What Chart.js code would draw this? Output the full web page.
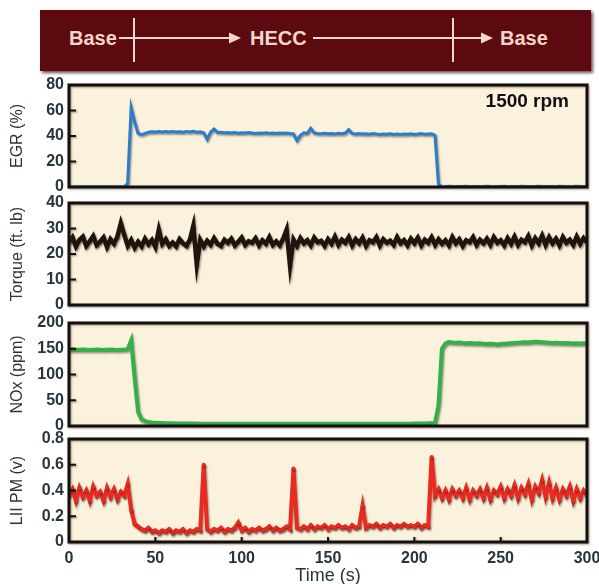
<!DOCTYPE html>
<html><head><meta charset="utf-8">
<script src="https://cdn.jsdelivr.net/npm/chart.js@4"></script>
<style>
html,body{margin:0;padding:0;background:#fff;width:599px;height:584px;overflow:hidden;}
#wrap{position:relative;width:599px;height:584px;}
canvas{position:absolute;left:0;}
#banner{position:absolute;left:40px;top:10px;width:551px;height:61px;background:#5c0a0f;box-shadow:2px 2px 3px rgba(40,0,0,0.7);}
#banner svg{position:absolute;left:0;top:0;}
.bt{position:absolute;top:18px;font:bold 20px/20px "Liberation Sans",Arial,sans-serif;color:#f4d6ca;white-space:nowrap;}
</style></head>
<body><div id="wrap">
<div id="banner">
<svg width="551" height="61">
<g stroke="#f4d6ca" stroke-width="2" fill="none">
<line x1="79" y1="28" x2="192" y2="28"/>
<line x1="94" y1="8" x2="94" y2="52"/>
<line x1="273" y1="28" x2="444" y2="28"/>
<line x1="413" y1="8" x2="413" y2="52"/>
</g>
<g fill="#f4d6ca">
<polygon points="201,28 189,22.5 189,33.5"/>
<polygon points="453,28 441,22.5 441,33.5"/>
</g>
</svg>
<span class="bt" id="b1" style="left:29px">Base</span>
<span class="bt" id="b2" style="left:210px">HECC</span>
<span class="bt" id="b3" style="left:460px">Base</span>
</div>
<canvas id="c1"></canvas>
<canvas id="c2"></canvas>
<canvas id="c3"></canvas>
<canvas id="c4"></canvas>
</div>
<script>
const time = [0,2,4,6,8,10,12,14,16,18,20,22,24,26,28,30,32,34,36,38,40,42,44,46,48,50,52,54,56,58,60,62,64,66,68,70,72,74,76,78,80,82,84,86,88,90,92,94,96,98,100,102,104,106,108,110,112,114,116,118,120,122,124,126,128,130,132,134,136,138,140,142,144,146,148,150,152,154,156,158,160,162,164,166,168,170,172,174,176,178,180,182,184,186,188,190,192,194,196,198,200,202,204,206,208,210,212,214,216,218,220,222,224,226,228,230,232,234,236,238,240,242,244,246,248,250,252,254,256,258,260,262,264,266,268,270,272,274,276,278,280,282,284,286,288,290,292,294,296,298,300];

const egr = [0,0,0,0,0,0,0,0,0,0,0,0,0,0,0,0,0,
  3,62,51,42,41,42,43,43.3,43.1,43.5,
  43.2,43.5,43.1,43.6,43.2,43.4,43,43.6,43.2,43.7,
  43,43.3,42.6,37.5,43,45.5,42.8,43,42.5,42.8,
  42.3,42.7,42.2,42.6,42.3,42.7,42.3,42,42.4,42.1,
  42.5,41.9,42.3,42,42.4,42.1,42.3,41.9,41.6,36.5,
  40.5,42.5,42,46,42.5,42,41.8,42.2,41.7,42,
  41.6,42.1,41.8,42.3,45,42,41.6,41.9,41.5,41.8,
  41.4,41.9,41.5,41.2,41.6,41.3,41.7,41.2,41.5,41.1,
  41.6,41.3,41.7,41.2,41.5,41.9,41.3,41.6,41.8,40.5,
  2,
  0.4,0.2,0.5,0.3,0.2,0.4,0.3,0.5,0.2,0.4,0.3,0.2,0.4,0.5,0.3,0.2,0.4,0.3,0.5,0.2,0.3,0.4,0.2,0.5,0.3,0.4,0.2,0.3,0.5,0.4,0.2,0.3,0.4,0.2,0.5,0.3,0.4,0.2,0.3,0.5,0.4,0.3,0.3];

const torque = [
  24.5,26.5,23,25.5,26.8,23.2,25,27,23.5,24.8,
  26.5,22.8,25.8,24,26.8,32,27.5,23.2,25.5,22.5,
  24.8,23,26,23.8,25.5,22.8,29.5,24,25.8,23.2,
  24.5,23,25.8,24.2,23.2,25.6,31,16,25.5,23,
  25.2,23.6,26.2,24,23.2,25.6,24.4,26,23.4,24.8,
  26.4,23.6,25,24.4,26.2,23.4,25.4,24,26.6,23.6,
  25,23.4,26,29.5,15.5,25.6,23.2,26.2,24.2,25.4,
  23.4,26.4,24.6,25.2,23.2,25.8,24,26.8,23.6,25.6,
  24.4,26.6,23.4,25.8,24.2,26.4,23.2,25.4,24.6,26.6,
  23.4,25.8,24.4,25.2,23.6,26.6,24.2,25.4,23.4,26,
  24.2,26.4,23.4,25.6,24.4,26.6,23.6,25.8,24,25.4,
  23.4,26.6,24.2,25.8,23.2,25.4,24.6,26.6,23.6,25.6,
  24.2,26,23.6,26.6,24.4,25.4,23.4,26.2,24,26.8,
  23.6,25.6,24.6,27,23.4,26.2,24.2,27.2,23.6,26.6,
  24.2,26,23.4,26.6,24.4,25.6,23.6,26.8,24,26.2,
  24.6];

const nox = [
  148,148.5,147.5,148,148.5,148,147.5,148,148.5,148,
  147.5,148,148.5,148,147.5,148,148,149,166,95,
  28,13,9.5,8,7,6.5,6,5.8,5.5,5.3,
  5.2,5,5,4.9,4.8,4.8,4.7,4.7,4.6,4.6,
  4.6,4.5,4.5,4.6,4.5,4.4,4.5,4.5,4.4,4.5,
  4.5,4.4,4.5,4.4,4.5,4.5,4.4,4.5,4.4,4.5,
  4.5,4.4,4.5,4.4,4.6,4.5,4.4,4.5,4.4,4.5,
  4.5,4.4,4.5,4.5,4.4,4.5,4.4,4.5,4.5,4.4,
  4.5,4.4,4.5,4.4,4.5,4.5,4.4,4.5,4.4,4.5,
  4.5,4.4,4.5,4.4,4.5,4.6,4.5,4.6,4.5,4.6,
  4.7,4.8,4.9,5,5.1,5.3,6,40,150,160,
  163,162,161.5,162,161,160.5,161,160.5,160,160.5,
  159.5,159,159.5,159,158.5,159,159.5,160,160.5,161,
  161.5,162,162.5,162,163,163.5,163,162.5,162,161.5,
  161,161.5,161,160.5,161,160.5,160,160.5,160,160.5,
  160];

const lii = [
  0.36,0.41,0.32,0.42,0.35,0.40,0.32,0.43,0.36,0.39,
  0.32,0.42,0.35,0.41,0.33,0.39,0.36,0.45,0.25,0.14,
  0.12,0.10,0.09,0.11,0.08,0.09,0.07,0.09,0.08,0.10,
  0.07,0.09,0.08,0.10,0.07,0.09,0.08,0.10,0.09,0.60,
  0.10,0.08,0.10,0.09,0.11,0.08,0.10,0.09,0.11,0.15,
  0.09,0.11,0.08,0.10,0.09,0.11,0.09,0.10,0.12,0.09,
  0.11,0.09,0.10,0.12,0.10,0.57,0.11,0.10,0.12,0.10,
  0.13,0.10,0.12,0.11,0.13,0.10,0.12,0.11,0.13,0.11,
  0.12,0.10,0.13,0.11,0.12,0.28,0.11,0.13,0.12,0.14,
  0.11,0.13,0.12,0.14,0.11,0.13,0.12,0.14,0.12,0.13,
  0.12,0.14,0.11,0.13,0.12,0.66,0.36,0.41,0.34,0.40,
  0.33,0.41,0.36,0.40,0.34,0.42,0.33,0.40,0.36,0.41,
  0.34,0.42,0.33,0.40,0.37,0.43,0.34,0.41,0.36,0.44,
  0.34,0.42,0.37,0.45,0.33,0.43,0.38,0.48,0.35,0.46,
  0.34,0.42,0.33,0.41,0.36,0.43,0.32,0.41,0.34,0.40,
  0.36];

const egrTicks = [0,20,40,60,80];
const egrTickLabels = ['0','20','40','60','80'];
const torqueTicks = [0,10,20,30,40];
const torqueTickLabels = ['0','10','20','30','40'];
const noxTicks = [0,50,100,150,200];
const noxTickLabels = ['0','50','100','150','200'];
const liiTicks = [0,0.2,0.4,0.6,0.8];
const liiTickLabels = ['0','0.2','0.4','0.6','0.8'];
const timeTicks = [0,50,100,150,200,250,300];
const timeTickLabels = ['0','50','100','150','200','250','300'];
const yTitles = ['EGR (%)','Torque (ft. lb)','NOx (ppm)','LII PM (v)'];
const xTitle = 'Time (s)';
const rpmLabel = '1500 rpm';

const W = 599, PLOT_L = 69, PLOT_R = 587;
const TEXT = '#27343b';
const FONT = '"Liberation Sans", Arial, Helvetica, sans-serif';

function panelPlugin(label, bottom) {
  return {
    id: 'panelDeco',
    beforeDraw(chart) {
      const {ctx, chartArea: a} = chart;
      ctx.save();
      ctx.fillStyle = '#faf2dc';
      ctx.fillRect(a.left, a.top, a.right - a.left, a.bottom - a.top);
      ctx.restore();
    },
    beforeDatasetsDraw(chart) {
      const ctx = chart.ctx;
      ctx.save();
      ctx.shadowColor = 'rgba(40,20,10,0.45)';
      ctx.shadowBlur = 2;
      ctx.shadowOffsetX = 1;
      ctx.shadowOffsetY = 1.5;
    },
    afterDatasetsDraw(chart) {
      const ctx = chart.ctx;
      ctx.restore();
      const a = chart.chartArea;
      ctx.save();
      ctx.shadowColor = 'rgba(90,40,20,0.5)';
      ctx.shadowBlur = 2;
      ctx.shadowOffsetX = 1;
      ctx.shadowOffsetY = 1;
      ctx.strokeStyle = '#111';
      ctx.lineWidth = 3;
      ctx.strokeRect(a.left, a.top, a.right - a.left, a.bottom - a.top);
      const ys = chart.scales.y;
      ctx.lineWidth = 2;
      ctx.beginPath();
      ys.ticks.forEach(t => {
        const p = ys.getPixelForValue(t.value);
        if (p > a.top + 3 && p < a.bottom - 3) { ctx.moveTo(a.left, p); ctx.lineTo(a.left + 7, p); }
      });
      if (bottom) {
        const xs = chart.scales.x;
        xs.ticks.forEach(t => {
          const p = xs.getPixelForValue(t.value);
          if (p > a.left + 3 && p < a.right - 3) { ctx.moveTo(p, a.bottom); ctx.lineTo(p, a.bottom - 5); }
        });
      }
      ctx.stroke();
      ctx.shadowColor = 'transparent';
      if (label) {
        ctx.fillStyle = '#111';
        ctx.font = 'bold 19px ' + FONT;
        ctx.textAlign = 'right';
        ctx.textBaseline = 'middle';
        ctx.fillText(label, a.right - 18, a.top + 17);
      }
      ctx.restore();
    }
  };
}

function makePanel(id, top, height, values, color, yMin, yMax, ticks, tickLabels, title, o) {
  const canvas = document.getElementById(id);
  canvas.style.top = top + 'px';
  canvas.width = W; canvas.height = height;
  canvas.style.width = W + 'px'; canvas.style.height = height + 'px';
  const bottom = !!o.bottom;
  return new Chart(canvas, {
    type: 'line',
    data: { datasets: [{
      data: time.map((t, i) => ({x: t, y: values[i]})),
      borderColor: color, backgroundColor: color,
      borderWidth: o.bw, pointRadius: o.pr, pointBorderWidth: 0, pointHoverRadius: 0,
      tension: 0, fill: false
    }]},
    options: {
      responsive: false, animation: false, devicePixelRatio: 1,
      events: [],
      layout: { padding: { left: 0, right: W - PLOT_R, top: 10, bottom: bottom ? 0 : 10 } },
      plugins: { legend: { display: false }, tooltip: { enabled: false } },
      scales: {
        x: {
          type: 'linear', min: 0, max: 300, display: bottom,
          grid: { display: false, drawTicks: false }, border: { display: false },
          afterBuildTicks: s => { s.ticks = timeTicks.map(v => ({value: v})); },
          ticks: { padding: 7, color: TEXT, font: { family: FONT, size: 16, weight: 'bold' },
                   maxRotation: 0, autoSkip: false, callback: (v, i) => timeTickLabels[i] },
          title: { display: true, text: xTitle, color: TEXT, font: { family: FONT, size: 18 }, padding: { top: 0, bottom: -3 } },
          afterFit: s => { if (bottom) { s.height = 42; s.paddingLeft = 0; s.paddingRight = 0; } else { s.height = 0; } }
        },
        y: {
          type: 'linear', min: yMin, max: yMax,
          grid: { display: false, drawTicks: false }, border: { display: false },
          afterBuildTicks: s => { s.ticks = ticks.map(v => ({value: v})); },
          ticks: { padding: 5, color: TEXT, font: { family: FONT, size: 16, weight: 'bold' },
                   autoSkip: false, callback: (v, i) => tickLabels[i] },
          title: { display: true, text: title, color: TEXT, font: { family: FONT, size: 16 }, padding: { top: 8, bottom: 0 } },
          afterFit: s => { s.width = PLOT_L; s.paddingTop = 0; s.paddingBottom = 0; }
        }
      }
    },
    plugins: [panelPlugin(o.label, bottom)]
  });
}

makePanel('c1', 75, 122, egr, '#2b7cca', 0, 80, egrTicks, egrTickLabels, yTitles[0], {bw: 3, pr: 0, label: rpmLabel});
makePanel('c2', 193, 122, torque, '#21140e', 0, 40, torqueTicks, torqueTickLabels, yTitles[1], {bw: 4.5, pr: 1.8});
makePanel('c3', 313, 123, nox, '#33b04a', 0, 200, noxTicks, noxTickLabels, yTitles[2], {bw: 4, pr: 0});
makePanel('c4', 429, 155, lii, '#ea2a1f', 0, 0.8, liiTicks, liiTickLabels, yTitles[3], {bw: 4, pr: 2, bottom: true});
</script>
</body></html>
